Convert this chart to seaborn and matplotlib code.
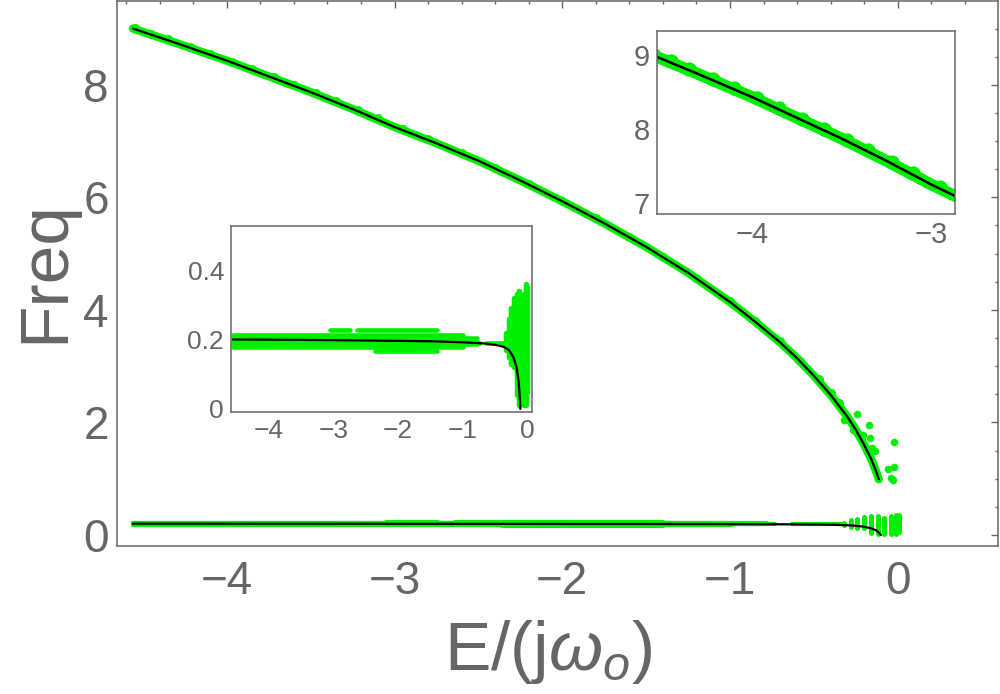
import seaborn as sns
import matplotlib.pyplot as plt
from matplotlib.ticker import MultipleLocator, FixedLocator, FixedFormatter, NullLocator

upper_E = [-4.56, -4.3, -4.0, -3.75, -3.5, -3.25, -3.0, -2.75, -2.5, -2.25, -2.0,
           -1.75, -1.5, -1.25, -1.0, -0.85, -0.7, -0.6, -0.5, -0.4, -0.3, -0.25,
           -0.2, -0.16, -0.13, -0.113]
upper_F = [9.00, 8.74, 8.43, 8.15, 7.87, 7.57, 7.25, 6.96, 6.65, 6.30, 5.93,
           5.54, 5.12, 4.66, 4.14, 3.79, 3.42, 3.14, 2.83, 2.49, 2.10, 1.87,
           1.60, 1.36, 1.14, 0.99]

# green data points along the upper branch
green_up_E = [-4.55, -4.45, -4.35, -4.22, -4.10, -3.97, -3.85, -3.72, -3.60, -3.47,
              -3.35, -3.22, -3.10, -2.95, -2.80, -2.60, -2.40, -2.20, -2.00, -1.80,
              -1.60, -1.40, -1.20, -1.00, -0.85, -0.70, -0.58, -0.47, -0.40, -0.35]
green_up_F = [9.01, 8.91, 8.81, 8.67, 8.55, 8.41, 8.28, 8.13, 8.00, 7.85,
              7.71, 7.55, 7.41, 7.22, 7.04, 6.79, 6.53, 6.24, 5.94, 5.63,
              5.30, 4.94, 4.56, 4.15, 3.81, 3.45, 3.10, 2.77, 2.53, 2.34]

# stray green points near the end of the upper branch
stray_E = [-0.32, -0.266, -0.24, -0.205, -0.17, -0.165, -0.155, -0.145, -0.135,
           -0.06, -0.04, -0.03, -0.02, -0.02]
stray_F = [2.04, 1.87, 2.15, 1.78, 1.95, 1.72, 1.54, 1.27, 1.49,
           1.17, 1.01, 0.98, 1.20, 1.66]

# ---- lower branch: black fit line ----
lower_E = [-4.56, -3.5, -2.5, -1.5, -1.0, -0.68, -0.5, -0.36, -0.28, -0.21,
           -0.16, -0.13, -0.115, -0.10]
lower_F = [0.200, 0.199, 0.197, 0.195, 0.192, 0.189, 0.185, 0.179, 0.170, 0.150,
           0.120, 0.083, 0.050, 0.0]

# dense rows of green points in the lower band: start E, end E, freq
row_E0 = [-4.56, -4.56, -4.56, -4.56, -4.56, -3.05, -2.64, -2.36, -0.99, -0.99, -0.99, -0.78, -0.63]
row_E1 = [-0.99, -0.99, -0.99, -0.99, -0.99, -2.74, -1.40, -1.40, -0.78, -0.78, -0.78, -0.73, -0.34]
row_F = [0.177, 0.186, 0.195, 0.204, 0.213, 0.226, 0.226, 0.166, 0.186, 0.195, 0.204, 0.190, 0.190]

# scattered columns of green points close to E = 0: E, lowest freq, highest freq
col_E = [-0.32, -0.28, -0.24, -0.20, -0.16, -0.12, -0.08, -0.04, -0.01, 0.01]
col_lo = [0.17, 0.15, 0.13, 0.12, 0.04, 0.01, 0.02, 0.01, 0.01, 0.05]
col_hi = [0.22, 0.26, 0.29, 0.32, 0.33, 0.34, 0.30, 0.33, 0.36, 0.35]

GREEN = "#00ee00"
GRAY = "#666666"

sns.set_style("white")
plt.rcParams["font.family"] = ["Liberation Sans", "DejaVu Sans"]
plt.rcParams["mathtext.fontset"] = "custom"
plt.rcParams["mathtext.rm"] = "Liberation Sans"
plt.rcParams["mathtext.it"] = "Liberation Sans:italic"


def draw_data(ax, band_lw, dot_s, row_lw, line_lw):
    sns.lineplot(x=upper_E, y=upper_F, color=GREEN, lw=band_lw, ax=ax,
                 sort=False, solid_capstyle="round")
    sns.scatterplot(x=green_up_E, y=green_up_F, color=GREEN, s=dot_s,
                    linewidth=0, ax=ax)
    sns.scatterplot(x=stray_E, y=stray_F, color=GREEN, s=dot_s * 0.7,
                    linewidth=0, ax=ax)
    ax.hlines(row_F, row_E0, row_E1, color=GREEN, lw=row_lw, capstyle="round")
    ax.vlines(col_E, col_lo, col_hi, color=GREEN, lw=row_lw * 1.2, capstyle="round")
    sns.lineplot(x=upper_E, y=upper_F, color="black", lw=line_lw, ax=ax, sort=False)
    sns.lineplot(x=lower_E, y=lower_F, color="black", lw=line_lw, ax=ax, sort=False)


def style_frame(ax, fs, mirror):
    for sp in ax.spines.values():
        sp.set_color(GRAY)
        sp.set_linewidth(1.1)
    ax.tick_params(which="both", direction="in", colors=GRAY, labelcolor=GRAY,
                   top=mirror, right=mirror, width=1)
    ax.tick_params(which="major", length=5, labelsize=fs)
    ax.tick_params(which="minor", length=2.5)
    ax.set_xlabel("")
    ax.set_ylabel("")


fig = plt.figure(figsize=(10, 6.94), dpi=100)
ax = fig.add_axes([0.117, 0.2133, 0.881, 0.7853])
ins1 = fig.add_axes([0.231, 0.4063, 0.301, 0.268])
ins2 = fig.add_axes([0.657, 0.6916, 0.298, 0.2637])

# main plot
draw_data(ax, band_lw=6.0, dot_s=42, row_lw=3.0, line_lw=1.6)
ax.set_xlim(-4.655, 0.598)
ax.set_ylim(-0.196, 9.49)
ax.xaxis.set_major_locator(MultipleLocator(1))
ax.xaxis.set_minor_locator(MultipleLocator(0.2))
ax.yaxis.set_major_locator(MultipleLocator(2))
ax.yaxis.set_minor_locator(MultipleLocator(0.5))
style_frame(ax, 33, True)
ax.tick_params(axis="x", which="major", pad=10)
ax.tick_params(axis="y", which="major", pad=6)

# lower-branch inset
draw_data(ins1, band_lw=3.5, dot_s=20, row_lw=3.3, line_lw=1.6)
ins1.set_xlim(-4.59, 0.08)
ins1.set_ylim(-0.009, 0.527)
ins1.xaxis.set_major_locator(MultipleLocator(1))
ins1.xaxis.set_minor_locator(MultipleLocator(0.2))
ins1.yaxis.set_major_locator(FixedLocator([0, 0.2, 0.4]))
ins1.yaxis.set_major_formatter(FixedFormatter(["0", "0.2", "0.4"]))
ins1.yaxis.set_minor_locator(NullLocator())
style_frame(ins1, 19, False)
ins1.tick_params(axis="x", which="major", pad=5)
ins1.tick_params(axis="y", which="major", pad=5)

# upper-branch inset
draw_data(ins2, band_lw=8.5, dot_s=105, row_lw=3, line_lw=1.8)
ins2.set_xlim(-4.53, -2.866)
ins2.set_ylim(6.85, 9.32)
ins2.xaxis.set_major_locator(MultipleLocator(1))
ins2.yaxis.set_major_locator(MultipleLocator(1))
ins2.xaxis.set_minor_locator(NullLocator())
ins2.yaxis.set_minor_locator(NullLocator())
style_frame(ins2, 21, False)
ins2.tick_params(axis="x", which="major", pad=5)
ins2.tick_params(axis="y", which="major", pad=5)

fig.text(0.045, 1 - 272 / 694, "Freq", rotation=90, ha="center", va="center",
         fontsize=50, color=GRAY)
fig.text(0.548, 1 - 652 / 694, r"E/(j$\omega_{o}$)", ha="center", va="center",
         fontsize=50, color=GRAY)

fig.savefig("out.png", dpi=100)
